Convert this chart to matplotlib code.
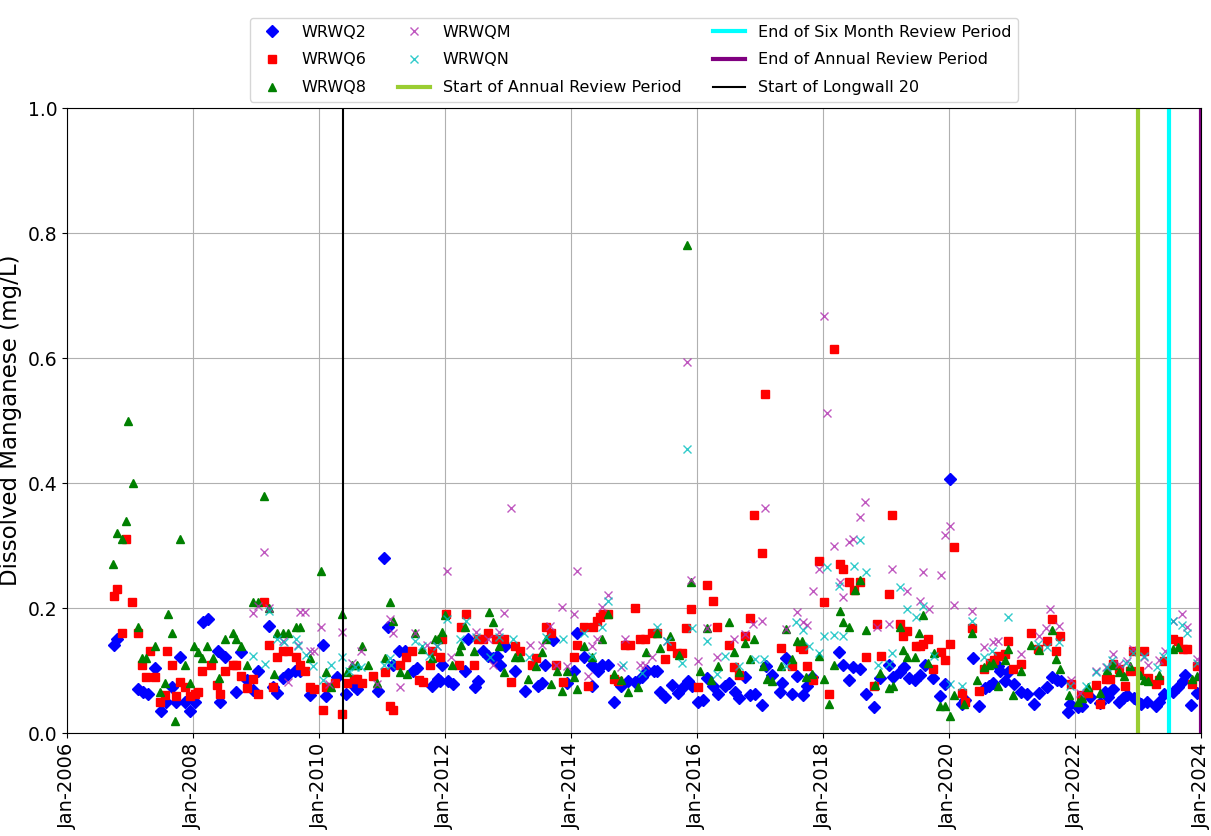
import numpy as np
import pandas as pd
import matplotlib
matplotlib.use("Agg")
import matplotlib.pyplot as plt
import matplotlib.dates as mdates

# sample times as decimal years, values in mg/L
q2_t = [2006.75, 2006.79, 2007.13, 2007.20, 2007.28, 2007.40, 2007.50, 2007.57, 2007.66, 2007.73, 2007.80, 2007.87, 2007.95,
        2008.03, 2008.16, 2008.24, 2008.39, 2008.43, 2008.51, 2008.68, 2008.77, 2008.85, 2008.96, 2009.04, 2009.20, 2009.27,
        2009.34, 2009.43, 2009.51, 2009.62, 2009.70, 2009.86, 2010.06, 2010.11, 2010.28, 2010.43, 2010.55, 2010.61, 2010.93,
        2011.03, 2011.10, 2011.17, 2011.27, 2011.36, 2011.50, 2011.55, 2011.79, 2011.89, 2011.92, 2011.96, 2012.05, 2012.12,
        2012.32, 2012.37, 2012.48, 2012.53, 2012.61, 2012.69, 2012.76, 2012.82, 2012.88, 2012.95, 2013.11, 2013.27, 2013.47,
        2013.54, 2013.59, 2013.71, 2013.93, 2014.05, 2014.09, 2014.21, 2014.33, 2014.34, 2014.43, 2014.50, 2014.59, 2014.68,
        2014.80, 2014.91, 2015.02, 2015.12, 2015.20, 2015.31, 2015.37, 2015.41, 2015.49, 2015.60, 2015.70, 2015.78, 2015.86,
        2015.92, 2016.01, 2016.09, 2016.16, 2016.25, 2016.34, 2016.45, 2016.50, 2016.60, 2016.67, 2016.76, 2016.84, 2016.92,
        2017.03, 2017.10, 2017.19, 2017.31, 2017.35, 2017.42, 2017.50, 2017.58, 2017.68, 2017.74, 2017.82, 2018.26, 2018.32,
        2018.42, 2018.48, 2018.58, 2018.68, 2018.81, 2018.91, 2019.04, 2019.11, 2019.22, 2019.29, 2019.36, 2019.46, 2019.54,
        2019.62, 2019.75, 2019.86, 2019.94, 2020.02, 2020.20, 2020.25, 2020.38, 2020.47, 2020.57, 2020.64, 2020.70, 2020.78,
        2020.81, 2020.89, 2020.94, 2021.03, 2021.15, 2021.23, 2021.35, 2021.43, 2021.55, 2021.63, 2021.71, 2021.77, 2021.89,
        2021.92, 2022.04, 2022.11, 2022.23, 2022.39, 2022.48, 2022.53, 2022.60, 2022.69, 2022.76, 2022.82, 2022.93, 2023.04,
        2023.14, 2023.29, 2023.34, 2023.41, 2023.56, 2023.64, 2023.71, 2023.75, 2023.84, 2023.93]
q2_v = [0.141, 0.15, 0.07, 0.065, 0.062, 0.104, 0.036, 0.049, 0.074, 0.05, 0.121, 0.049, 0.035,
        0.05, 0.177, 0.182, 0.132, 0.05, 0.121, 0.065, 0.13, 0.085, 0.069, 0.10, 0.171, 0.074,
        0.064, 0.088, 0.095, 0.099, 0.10, 0.061, 0.141, 0.06, 0.09, 0.063, 0.075, 0.07, 0.068,
        0.28, 0.17, 0.109, 0.132, 0.132, 0.099, 0.104, 0.075, 0.086, 0.083, 0.109, 0.083, 0.079,
        0.10, 0.15, 0.074, 0.083, 0.132, 0.123, 0.12, 0.123, 0.109, 0.14, 0.10, 0.068, 0.075,
        0.08, 0.109, 0.149, 0.08, 0.10, 0.16, 0.121, 0.076, 0.109, 0.10, 0.109, 0.109, 0.05,
        0.075, 0.084, 0.081, 0.09, 0.099, 0.10, 0.10, 0.066, 0.058, 0.077, 0.064, 0.074, 0.083,
        0.075, 0.049, 0.053, 0.088, 0.075, 0.063, 0.075, 0.08, 0.066, 0.056, 0.09, 0.061, 0.063,
        0.045, 0.107, 0.093, 0.066, 0.08, 0.12, 0.063, 0.092, 0.061, 0.075, 0.09, 0.13, 0.109,
        0.085, 0.106, 0.102, 0.063, 0.041, 0.088, 0.109, 0.09, 0.097, 0.106, 0.088, 0.085, 0.093,
        0.109, 0.088, 0.059, 0.079, 0.406, 0.047, 0.053, 0.12, 0.044, 0.072, 0.075, 0.08, 0.107,
        0.10, 0.083, 0.097, 0.079, 0.066, 0.063, 0.047, 0.064, 0.074, 0.09, 0.085, 0.083, 0.033,
        0.047, 0.041, 0.043, 0.058, 0.048, 0.065, 0.058, 0.07, 0.05, 0.056, 0.061, 0.056, 0.047,
        0.05, 0.044, 0.05, 0.063, 0.065, 0.074, 0.083, 0.093, 0.045, 0.064]

q6_t = [2006.74, 2006.79, 2006.88, 2006.94, 2007.04, 2007.13, 2007.19, 2007.25, 2007.32, 2007.40, 2007.48, 2007.56, 2007.59,
        2007.66, 2007.73, 2007.79, 2007.87, 2007.95, 2008.03, 2008.08, 2008.15, 2008.28, 2008.38, 2008.43, 2008.51, 2008.63,
        2008.68, 2008.77, 2008.85, 2008.95, 2009.04, 2009.12, 2009.20, 2009.27, 2009.34, 2009.43, 2009.51, 2009.63, 2009.70,
        2009.78, 2009.86, 2009.92, 2010.06, 2010.11, 2010.25, 2010.36, 2010.44, 2010.55, 2010.61, 2010.69, 2010.86, 2011.05,
        2011.12, 2011.17, 2011.29, 2011.38, 2011.47, 2011.59, 2011.65, 2011.76, 2011.80, 2011.92, 2011.96, 2012.02, 2012.23,
        2012.26, 2012.33, 2012.46, 2012.53, 2012.60, 2012.69, 2012.81, 2012.94, 2013.04, 2013.11, 2013.19, 2013.38, 2013.45,
        2013.60, 2013.68, 2013.76, 2013.87, 2014.05, 2014.09, 2014.21, 2014.27, 2014.35, 2014.41, 2014.46, 2014.51, 2014.59,
        2014.68, 2014.75, 2014.86, 2014.93, 2015.02, 2015.10, 2015.17, 2015.28, 2015.37, 2015.49, 2015.58, 2015.69, 2015.76,
        2015.83, 2015.91, 2016.01, 2016.16, 2016.25, 2016.32, 2016.50, 2016.58, 2016.66, 2016.76, 2016.84, 2016.90, 2017.03,
        2017.08, 2017.34, 2017.50, 2017.64, 2017.68, 2017.75, 2017.84, 2017.93, 2018.02, 2018.09, 2018.18, 2018.27, 2018.32,
        2018.42, 2018.49, 2018.58, 2018.68, 2018.81, 2018.86, 2018.92, 2019.04, 2019.09, 2019.22, 2019.27, 2019.33, 2019.48,
        2019.54, 2019.59, 2019.66, 2019.75, 2019.87, 2019.94, 2020.02, 2020.08, 2020.20, 2020.25, 2020.36, 2020.47, 2020.56,
        2020.65, 2020.71, 2020.78, 2020.89, 2020.94, 2021.02, 2021.15, 2021.30, 2021.42, 2021.55, 2021.63, 2021.70, 2021.76,
        2021.93, 2022.09, 2022.21, 2022.33, 2022.39, 2022.49, 2022.56, 2022.61, 2022.69, 2022.79, 2022.87, 2022.92, 2023.02,
        2023.09, 2023.16, 2023.29, 2023.34, 2023.41, 2023.56, 2023.64, 2023.71, 2023.78, 2023.85, 2023.93]
q6_v = [0.22, 0.23, 0.16, 0.31, 0.21, 0.16, 0.109, 0.09, 0.132, 0.09, 0.049, 0.061, 0.132,
        0.109, 0.059, 0.081, 0.074, 0.059, 0.062, 0.065, 0.10, 0.109, 0.077, 0.062, 0.10, 0.109,
        0.109, 0.091, 0.072, 0.086, 0.063, 0.21, 0.141, 0.073, 0.121, 0.132, 0.132, 0.121, 0.109,
        0.10, 0.074, 0.07, 0.037, 0.074, 0.08, 0.03, 0.08, 0.087, 0.087, 0.08, 0.091, 0.097,
        0.044, 0.037, 0.109, 0.121, 0.132, 0.085, 0.081, 0.109, 0.132, 0.121, 0.15, 0.19, 0.109,
        0.17, 0.19, 0.109, 0.151, 0.151, 0.16, 0.151, 0.151, 0.081, 0.14, 0.132, 0.109, 0.12,
        0.17, 0.16, 0.109, 0.081, 0.121, 0.141, 0.17, 0.075, 0.17, 0.18, 0.186, 0.19, 0.19,
        0.086, 0.083, 0.141, 0.141, 0.20, 0.15, 0.15, 0.16, 0.16, 0.118, 0.139, 0.128, 0.128,
        0.168, 0.198, 0.073, 0.237, 0.212, 0.17, 0.141, 0.106, 0.093, 0.155, 0.184, 0.349, 0.288,
        0.543, 0.136, 0.107, 0.138, 0.134, 0.107, 0.085, 0.275, 0.209, 0.063, 0.614, 0.27, 0.262,
        0.242, 0.229, 0.242, 0.121, 0.075, 0.174, 0.124, 0.223, 0.349, 0.174, 0.155, 0.163, 0.139,
        0.14, 0.143, 0.151, 0.102, 0.13, 0.117, 0.143, 0.297, 0.064, 0.049, 0.168, 0.067, 0.102,
        0.112, 0.117, 0.123, 0.127, 0.148, 0.102, 0.11, 0.16, 0.135, 0.148, 0.183, 0.132, 0.155,
        0.079, 0.061, 0.064, 0.077, 0.047, 0.086, 0.086, 0.11, 0.102, 0.075, 0.10, 0.132, 0.099,
        0.132, 0.088, 0.079, 0.085, 0.116, 0.15, 0.148, 0.134, 0.134, 0.079, 0.107]

q8_t = [2006.73, 2006.79, 2006.88, 2006.94, 2006.97, 2007.05, 2007.12, 2007.19, 2007.26, 2007.40, 2007.48, 2007.56, 2007.60,
        2007.66, 2007.71, 2007.79, 2007.87, 2007.95, 2008.02, 2008.08, 2008.15, 2008.23, 2008.31, 2008.42, 2008.51, 2008.63,
        2008.68, 2008.77, 2008.85, 2008.95, 2009.04, 2009.12, 2009.20, 2009.29, 2009.34, 2009.43, 2009.51, 2009.63, 2009.70,
        2009.86, 2010.03, 2010.11, 2010.19, 2010.36, 2010.44, 2010.52, 2010.61, 2010.68, 2010.78, 2010.92, 2011.05, 2011.13,
        2011.17, 2011.29, 2011.39, 2011.52, 2011.63, 2011.79, 2011.84, 2011.89, 2011.96, 2012.00, 2012.11, 2012.23, 2012.26,
        2012.32, 2012.46, 2012.70, 2012.76, 2012.85, 2012.94, 2013.11, 2013.19, 2013.31, 2013.44, 2013.54, 2013.60, 2013.68,
        2013.77, 2013.85, 2013.93, 2014.05, 2014.09, 2014.21, 2014.34, 2014.49, 2014.59, 2014.68, 2014.80, 2014.91, 2015.07,
        2015.19, 2015.37, 2015.41, 2015.57, 2015.72, 2015.84, 2015.90, 2016.05, 2016.16, 2016.23, 2016.34, 2016.50, 2016.59,
        2016.66, 2016.76, 2016.84, 2016.91, 2017.05, 2017.11, 2017.19, 2017.34, 2017.41, 2017.50, 2017.58, 2017.66, 2017.73,
        2017.82, 2017.93, 2018.02, 2018.09, 2018.18, 2018.27, 2018.32, 2018.42, 2018.51, 2018.59, 2018.68, 2018.83, 2018.91,
        2019.04, 2019.11, 2019.22, 2019.27, 2019.34, 2019.46, 2019.53, 2019.59, 2019.67, 2019.76, 2019.86, 2019.94, 2020.02,
        2020.08, 2020.24, 2020.36, 2020.45, 2020.55, 2020.64, 2020.70, 2020.78, 2020.89, 2020.94, 2021.02, 2021.15, 2021.30,
        2021.43, 2021.63, 2021.70, 2021.76, 2021.91, 2022.04, 2022.11, 2022.21, 2022.39, 2022.51, 2022.60, 2022.69, 2022.78,
        2022.87, 2023.03, 2023.09, 2023.16, 2023.34, 2023.56, 2023.64, 2023.85, 2023.93]
q8_v = [0.27, 0.32, 0.31, 0.34, 0.50, 0.40, 0.17, 0.12, 0.12, 0.14, 0.066, 0.08, 0.19,
        0.16, 0.02, 0.31, 0.109, 0.08, 0.14, 0.13, 0.12, 0.14, 0.12, 0.088, 0.15, 0.16,
        0.15, 0.14, 0.109, 0.21, 0.21, 0.38, 0.20, 0.095, 0.16, 0.16, 0.16, 0.17, 0.17,
        0.12, 0.26, 0.097, 0.074, 0.19, 0.097, 0.109, 0.109, 0.14, 0.109, 0.08, 0.12, 0.21,
        0.18, 0.097, 0.094, 0.16, 0.135, 0.12, 0.15, 0.151, 0.161, 0.189, 0.109, 0.132, 0.141,
        0.17, 0.132, 0.193, 0.178, 0.139, 0.098, 0.121, 0.121, 0.086, 0.107, 0.129, 0.15, 0.079,
        0.10, 0.068, 0.10, 0.09, 0.07, 0.139, 0.121, 0.15, 0.19, 0.094, 0.085, 0.066, 0.073,
        0.13, 0.16, 0.136, 0.155, 0.125, 0.781, 0.242, 0.10, 0.168, 0.085, 0.107, 0.177, 0.129,
        0.097, 0.144, 0.118, 0.151, 0.107, 0.086, 0.083, 0.107, 0.166, 0.118, 0.148, 0.148, 0.089,
        0.094, 0.123, 0.086, 0.046, 0.109, 0.196, 0.178, 0.17, 0.229, 0.245, 0.165, 0.077, 0.096,
        0.072, 0.075, 0.17, 0.133, 0.121, 0.121, 0.16, 0.189, 0.112, 0.128, 0.043, 0.043, 0.028,
        0.061, 0.047, 0.16, 0.085, 0.106, 0.109, 0.112, 0.075, 0.117, 0.134, 0.061, 0.099, 0.141,
        0.133, 0.165, 0.118, 0.102, 0.061, 0.05, 0.056, 0.073, 0.064, 0.101, 0.109, 0.097, 0.092,
        0.107, 0.093, 0.085, 0.083, 0.093, 0.135, 0.138, 0.087, 0.091]

qm_t = [2008.95, 2009.04, 2009.12, 2009.20, 2009.43, 2009.51, 2009.66, 2009.70, 2009.78, 2009.86, 2009.92, 2010.03, 2010.16,
        2010.36, 2010.52, 2010.66, 2010.92, 2011.12, 2011.17, 2011.29, 2011.52, 2011.71, 2011.87, 2012.03, 2012.09, 2012.50,
        2012.69, 2012.76, 2012.85, 2012.94, 2013.04, 2013.35, 2013.54, 2013.67, 2013.76, 2013.85, 2013.93, 2014.05, 2014.09,
        2014.27, 2014.34, 2014.41, 2014.49, 2014.59, 2014.80, 2014.86, 2015.10, 2015.17, 2015.28, 2015.52, 2015.84, 2015.90,
        2016.02, 2016.16, 2016.32, 2016.59, 2016.76, 2016.89, 2017.03, 2017.08, 2017.41, 2017.58, 2017.68, 2017.75, 2017.84,
        2017.93, 2018.02, 2018.07, 2018.18, 2018.27, 2018.32, 2018.42, 2018.47, 2018.58, 2018.67, 2018.86, 2019.04, 2019.09,
        2019.34, 2019.54, 2019.59, 2019.69, 2019.87, 2019.94, 2020.02, 2020.08, 2020.36, 2020.55, 2020.70, 2020.78, 2021.14,
        2021.43, 2021.54, 2021.61, 2021.75, 2021.93, 2022.08, 2022.33, 2022.49, 2022.60, 2022.69, 2022.83, 2022.92, 2023.09,
        2023.16, 2023.34, 2023.43, 2023.55, 2023.69, 2023.78, 2023.94]
qm_v = [0.192, 0.203, 0.29, 0.20, 0.148, 0.081, 0.141, 0.193, 0.193, 0.132, 0.132, 0.17, 0.079,
        0.161, 0.112, 0.132, 0.079, 0.182, 0.16, 0.073, 0.16, 0.141, 0.139, 0.26, 0.121, 0.161,
        0.15, 0.109, 0.161, 0.192, 0.36, 0.141, 0.141, 0.171, 0.109, 0.201, 0.107, 0.19, 0.26,
        0.091, 0.139, 0.15, 0.202, 0.221, 0.106, 0.15, 0.109, 0.109, 0.121, 0.148, 0.594, 0.245,
        0.116, 0.168, 0.121, 0.15, 0.158, 0.174, 0.18, 0.36, 0.166, 0.193, 0.177, 0.173, 0.228,
        0.262, 0.667, 0.512, 0.299, 0.241, 0.218, 0.305, 0.31, 0.345, 0.37, 0.17, 0.174, 0.262,
        0.228, 0.212, 0.257, 0.198, 0.253, 0.317, 0.331, 0.205, 0.196, 0.137, 0.145, 0.148, 0.127,
        0.155, 0.168, 0.198, 0.171, 0.085, 0.064, 0.099, 0.106, 0.127, 0.11, 0.116, 0.135, 0.121,
        0.109, 0.117, 0.132, 0.18, 0.191, 0.169, 0.118]

qn_t = [2008.96, 2009.14, 2009.20, 2009.34, 2009.44, 2009.63, 2009.67, 2009.80, 2009.90, 2010.06, 2010.19, 2010.36, 2010.47,
        2010.57, 2010.66, 2011.03, 2011.13, 2011.15, 2011.52, 2011.63, 2011.75, 2011.87, 2012.03, 2012.24, 2012.33, 2012.50,
        2012.71, 2012.85, 2013.08, 2013.34, 2013.60, 2013.87, 2014.21, 2014.34, 2014.50, 2014.59, 2014.83, 2015.12, 2015.36,
        2015.52, 2015.76, 2015.84, 2015.92, 2016.16, 2016.31, 2016.44, 2016.67, 2016.92, 2017.06, 2017.41, 2017.57, 2017.68,
        2017.77, 2017.93, 2018.02, 2018.06, 2018.18, 2018.26, 2018.32, 2018.49, 2018.58, 2018.68, 2018.88, 2019.04, 2019.09,
        2019.22, 2019.34, 2019.48, 2019.59, 2019.76, 2020.01, 2020.20, 2020.36, 2020.56, 2020.68, 2020.94, 2021.42, 2021.55,
        2021.75, 2021.92, 2022.17, 2022.34, 2022.50, 2022.58, 2022.81, 2022.92, 2023.09, 2023.30, 2023.39, 2023.56, 2023.69,
        2023.78, 2023.93]
qn_v = [0.123, 0.11, 0.196, 0.15, 0.145, 0.15, 0.139, 0.125, 0.107, 0.085, 0.109, 0.121, 0.10,
        0.106, 0.106, 0.109, 0.12, 0.109, 0.148, 0.14, 0.123, 0.139, 0.182, 0.15, 0.18, 0.153,
        0.121, 0.153, 0.15, 0.121, 0.153, 0.15, 0.16, 0.123, 0.169, 0.211, 0.109, 0.096, 0.17,
        0.148, 0.112, 0.454, 0.168, 0.147, 0.095, 0.123, 0.107, 0.118, 0.118, 0.107, 0.177, 0.165,
        0.139, 0.128, 0.155, 0.265, 0.157, 0.235, 0.155, 0.268, 0.309, 0.258, 0.109, 0.11, 0.128,
        0.234, 0.198, 0.186, 0.203, 0.123, 0.079, 0.075, 0.18, 0.121, 0.132, 0.185, 0.143, 0.138,
        0.146, 0.075, 0.075, 0.097, 0.106, 0.117, 0.112, 0.128, 0.123, 0.106, 0.123, 0.179, 0.173,
        0.16, 0.112]

longwall_date = "2010-05-18"
annual_start = "2023-01-01"
six_month_end = "2023-06-30"
annual_end = "2023-12-31"


def to_dates(years):
    y = np.asarray(years)
    return pd.Timestamp("2006-01-01") + pd.to_timedelta((y - 2006.0) * 365.25, unit="D")


plt.rcParams['font.family'] = ['DejaVu Sans']

fig = plt.figure(figsize=(12.11, 8.36), dpi=100)
ax = fig.add_axes([0.0553, 0.1232, 0.9364, 0.7476])

ax.plot(to_dates(q2_t), q2_v, linestyle='none', marker='D', color='#0000ff', markersize=6.5, label='WRWQ2')
ax.plot(to_dates(q6_t), q6_v, linestyle='none', marker='s', color='#ff0000', markersize=6, label='WRWQ6')
ax.plot(to_dates(q8_t), q8_v, linestyle='none', marker='^', color='#008000', markersize=6, label='WRWQ8')
ax.plot(to_dates(qm_t), qm_v, linestyle='none', marker='x', color='#b030b0', markersize=6,
        markeredgewidth=1.0, alpha=0.8, label='WRWQM')
ax.plot(to_dates(qn_t), qn_v, linestyle='none', marker='x', color='#00bfbf', markersize=6,
        markeredgewidth=1.0, alpha=0.8, label='WRWQN')

ax.axvline(pd.Timestamp(annual_start), color='#9acd32', lw=3, label='Start of Annual Review Period')
ax.axvline(pd.Timestamp(six_month_end), color='#00ffff', lw=3, label='End of Six Month Review Period')
ax.axvline(pd.Timestamp(annual_end), color='#800080', lw=3, label='End of Annual Review Period')
ax.axvline(pd.Timestamp(longwall_date), color='black', lw=1.5, label='Start of Longwall 20')

ax.set_xlim(pd.Timestamp("2006-01-01"), pd.Timestamp("2024-01-01"))
ax.set_ylim(0, 1.0)
ax.set_yticks(np.arange(0, 1.01, 0.2))
ax.yaxis.set_major_formatter(plt.FormatStrFormatter('%.1f'))
ax.xaxis.set_major_locator(mdates.YearLocator(2))
ax.xaxis.set_major_formatter(mdates.DateFormatter('%b-%Y'))
ax.tick_params(axis='x', labelsize=14, labelrotation=90)
ax.tick_params(axis='y', labelsize=13.5)
ax.grid(True, color='#b0b0b0', lw=0.8)
ax.set_axisbelow(True)
ax.set_ylabel('Dissolved Manganese (mg/L)', fontsize=16.5)

h, l = ax.get_legend_handles_labels()
order = ['WRWQ2', 'WRWQ6', 'WRWQ8', 'WRWQM', 'WRWQN', 'Start of Annual Review Period',
         'End of Six Month Review Period', 'End of Annual Review Period', 'Start of Longwall 20']
hd = dict(zip(l, h))
ax.legend([hd[k] for k in order], order, loc='lower center', bbox_to_anchor=(0.5, 1.0), ncol=3,
          fontsize=11.5, labelspacing=0.8, borderaxespad=0.4, frameon=True)

fig.savefig("out.png", dpi=100)
